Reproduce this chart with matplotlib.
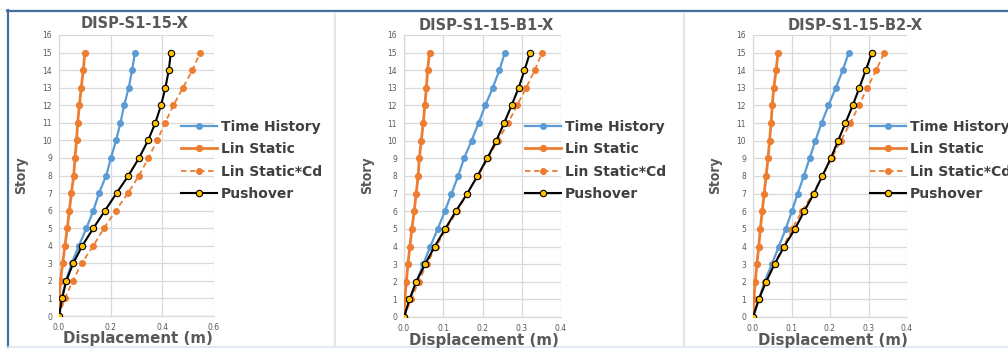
import matplotlib
matplotlib.use("Agg")
import matplotlib.pyplot as plt
from matplotlib.lines import Line2D
import numpy as np

W, H = 1008, 349

stories = list(range(0, 16))

titles = ["DISP-S1-15-X", "DISP-S1-15-B1-X", "DISP-S1-15-B2-X"]
series_names = ["Time History", "Lin Static", "Lin Static*Cd", "Pushover"]

# Panel 1 data (displacement in m, stories 0..15)
p1_time_history = [0.0, 0.010, 0.027, 0.049, 0.077, 0.106, 0.133, 0.155, 0.183, 0.201,
                   0.221, 0.238, 0.252, 0.270, 0.283, 0.294]
p1_lin_static = [0.0, 0.001, 0.006, 0.014, 0.023, 0.032, 0.040, 0.048, 0.057, 0.062,
                 0.068, 0.072, 0.079, 0.086, 0.094, 0.100]
p1_lin_static_cd = [0.0, 0.023, 0.053, 0.088, 0.133, 0.174, 0.220, 0.267, 0.310, 0.346,
                    0.380, 0.411, 0.443, 0.480, 0.516, 0.547]
p1_pushover = [0.0, 0.012, 0.028, 0.055, 0.090, 0.133, 0.178, 0.223, 0.269, 0.310,
               0.345, 0.373, 0.395, 0.412, 0.425, 0.433]

# Panel 2 data
p2_time_history = [0.0, 0.015, 0.032, 0.049, 0.067, 0.086, 0.104, 0.121, 0.138, 0.153,
                   0.172, 0.190, 0.207, 0.226, 0.243, 0.257]
p2_lin_static = [0.0, 0.002, 0.006, 0.010, 0.015, 0.020, 0.026, 0.031, 0.036, 0.039,
                 0.044, 0.049, 0.053, 0.057, 0.060, 0.065]
p2_lin_static_cd = [0.0, 0.018, 0.037, 0.058, 0.082, 0.107, 0.135, 0.161, 0.188, 0.213,
                    0.239, 0.265, 0.288, 0.311, 0.333, 0.352]
p2_pushover = [0.0, 0.014, 0.031, 0.054, 0.078, 0.105, 0.132, 0.161, 0.187, 0.212,
               0.235, 0.255, 0.274, 0.292, 0.307, 0.321]

# Panel 3 data
p3_time_history = [0.0, 0.015, 0.030, 0.049, 0.067, 0.085, 0.101, 0.116, 0.132, 0.147,
                   0.162, 0.178, 0.196, 0.215, 0.233, 0.249]
p3_lin_static = [0.0, 0.002, 0.006, 0.010, 0.015, 0.019, 0.024, 0.029, 0.034, 0.039,
                 0.043, 0.047, 0.050, 0.054, 0.060, 0.065]
p3_lin_static_cd = [0.0, 0.016, 0.032, 0.055, 0.079, 0.102, 0.127, 0.156, 0.180, 0.204,
                    0.228, 0.253, 0.275, 0.297, 0.320, 0.341]
p3_pushover = [0.0, 0.015, 0.034, 0.056, 0.081, 0.109, 0.133, 0.158, 0.180, 0.202,
               0.221, 0.240, 0.259, 0.276, 0.293, 0.309]

panels_data = [
    (p1_time_history, p1_lin_static, p1_lin_static_cd, p1_pushover),
    (p2_time_history, p2_lin_static, p2_lin_static_cd, p2_pushover),
    (p3_time_history, p3_lin_static, p3_lin_static_cd, p3_pushover),
]
x_limits = [(0.0, 0.6), (0.0, 0.4), (0.0, 0.4)]
x_steps = [0.2, 0.1, 0.1]

# layout in pixels
axes_px = [(59, 214, 35, 316), (404, 561, 35, 317), (753, 907, 35, 317)]
title_px = [(135, 24), (486, 25), (855, 25)]
ylabel_px = [(21, 175), (367, 175), (715, 175)]
xlabel_px = [(138, 339), (484, 340), (833, 340)]
legend_px = [(181, 120), (525, 120), (870, 120)]

BLUE = "#5B9BD5"
ORANGE = "#ED7D31"
GOLD = "#FFC000"
GRID = "#D9D9D9"
TXT = "#595959"


def fx(x):
    return x / W


def fy(y):
    return 1 - y / H


fig = plt.figure(figsize=(W / 100, H / 100), dpi=100)
fig.patch.set_facecolor("white")

for i in range(3):
    l, r, t, b = axes_px[i]
    ax = fig.add_axes([fx(l), fy(b), (r - l) / W, (b - t) / H])
    th, ls, lscd, po = panels_data[i]
    h1, = ax.plot(th, stories, color=BLUE, lw=1.6, marker="o", ms=4.0,
                  markerfacecolor=BLUE, markeredgecolor=BLUE, zorder=3)
    h2, = ax.plot(ls, stories, color=ORANGE, lw=2.0, marker="o", ms=4.2,
                  markerfacecolor=ORANGE, markeredgecolor=ORANGE, zorder=3)
    h3, = ax.plot(lscd, stories, color=ORANGE, lw=1.3, ls=(0, (3, 2)), marker="o", ms=4.0,
                  markerfacecolor=ORANGE, markeredgecolor=ORANGE, zorder=3)
    h4, = ax.plot(po, stories, color="black", lw=1.5, marker="o", ms=4.6,
                  markerfacecolor=GOLD, markeredgecolor="black", markeredgewidth=0.8,
                  zorder=4)
    x0, x1 = x_limits[i]
    ax.set_xlim(x0, x1)
    ax.set_ylim(0, 16)
    ax.set_xticks(np.round(np.arange(x0, x1 + 1e-9, x_steps[i]), 2))
    ax.set_xticklabels([f"{v:.1f}" for v in np.arange(x0, x1 + 1e-9, x_steps[i])])
    ax.set_yticks(range(0, 17))
    ax.tick_params(length=0, labelsize=5.5, labelcolor=TXT, pad=5)
    ax.grid(True, color=GRID, lw=0.9)
    ax.set_axisbelow(True)
    for s in ["top", "right"]:
        ax.spines[s].set_visible(False)
    for s in ["left", "bottom"]:
        ax.spines[s].set_color(GRID)
        ax.spines[s].set_linewidth(0.9)

    tx, ty = title_px[i]
    fig.text(fx(tx), fy(ty), titles[i], ha="center", va="center", fontsize=10.5,
             fontweight="bold", color=TXT)
    yx, yy = ylabel_px[i]
    fig.text(fx(yx), fy(yy), "Story", ha="center", va="center", rotation=90,
             fontsize=10, fontweight="bold", color=TXT,
             family=["Liberation Sans Narrow", "DejaVu Sans"], fontstretch="condensed")
    xx, xy = xlabel_px[i]
    fig.text(fx(xx), fy(xy), "Displacement (m)", ha="center", va="center",
             fontsize=10.8, fontweight="bold", color=TXT)

    lx, ly = legend_px[i]
    leg = fig.legend([h1, h2, h3, h4], series_names, loc="upper left",
                     bbox_to_anchor=(fx(lx), fy(ly)), frameon=False, borderpad=0,
                     borderaxespad=0, handlelength=2.6, handletextpad=0.25,
                     labelspacing=0.6, numpoints=1,
                     prop={"size": 10, "weight": "bold"})
    for t in leg.get_texts():
        t.set_color("#404040")

# decorative frame lines
fig.add_artist(Line2D([fx(7), 1], [fy(11), fy(11)], color="#41719C", lw=1.6))
fig.add_artist(Line2D([0, 1], [fy(9), fy(9)], color="#E6E6E6", lw=0.6))
fig.add_artist(Line2D([fx(7.5), fx(7.5)], [fy(10), fy(347)], color="#41719C", lw=1.6))
fig.add_artist(Line2D([fx(8), 1], [fy(347), fy(347)], color="#DCE6F2", lw=1.2))
for sx in [335, 684]:
    fig.add_artist(Line2D([fx(sx), fx(sx)], [fy(14), fy(345)], color="#E6E6E6", lw=1.6))

fig.savefig("out.png", dpi=100, facecolor="white")
